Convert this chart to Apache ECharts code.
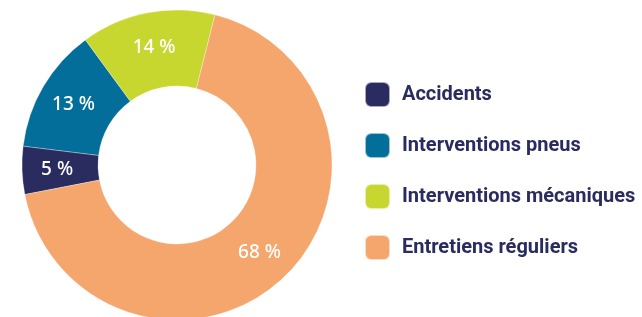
<!DOCTYPE html>
<html>
<head>
<meta charset="utf-8">
<script src="https://cdn.jsdelivr.net/npm/echarts@6/dist/echarts.min.js"></script>
<style>
  html, body { margin: 0; padding: 0; background: #fff; }
  #chart { width: 642px; height: 317px; }
</style>
</head>
<body>
<div id="chart"></div>
<script>
  // données
  const categories = ['Accidents', 'Interventions pneus', 'Interventions mécaniques', 'Entretiens réguliers']
  const values = [5, 13, 14, 68]
  const colors = ['#2a2b5f', '#036e99', '#c7d72f', '#f4a66d']

  const chart = echarts.init(document.getElementById('chart'))

  const option = {
    animation: false,
    color: colors,
    legend: {
      orient: 'vertical',
      left: 364,
      top: 81,
      padding: 0,
      itemWidth: 25,
      itemHeight: 25,
      itemGap: 24,
      icon: 'roundRect',
      data: categories,
      textStyle: {
        fontFamily: 'Roboto',
        fontSize: 20,
        fontWeight: 'bold',
        color: '#2a2b5f',
        lineHeight: 22,
        padding: [0, 0, 0, 7]
      }
    },
    series: [{
      type: 'pie',
      center: [177, 165],
      radius: [79, 155],
      startAngle: 191,
      clockwise: true,
      avoidLabelOverlap: false,
      itemStyle: { borderColor: 'rgba(255,255,255,0.6)', borderWidth: 0.5 },
      label: {
        show: true,
        position: 'inside',
        formatter: '{c} %',
        color: '#fff',
        fontFamily: 'Noto Sans',
        fontSize: 19,
        fontWeight: 500
      },
      labelLine: { show: false },
      data: categories.map((name, i) => ({ name: name, value: values[i] }))
    }]
  }

  chart.setOption(option)
</script>
</body>
</html>
